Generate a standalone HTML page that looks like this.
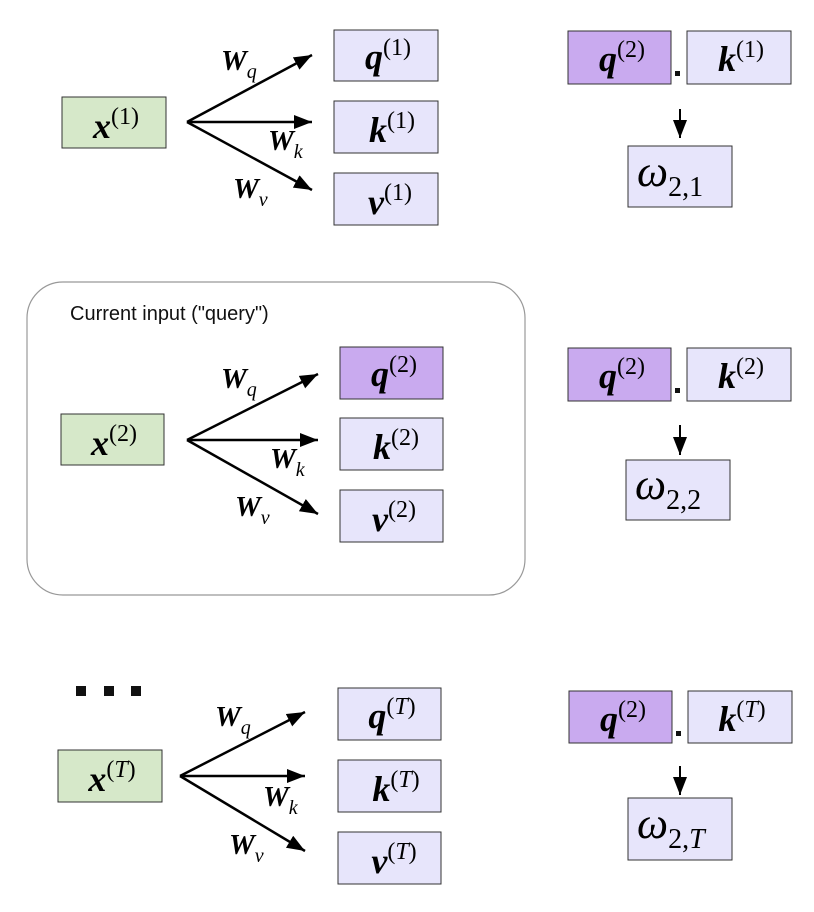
<!DOCTYPE html>
<html><head><meta charset="utf-8"><style>
html,body{margin:0;padding:0;background:#fff}
svg{display:block}
.L{font-family:"Liberation Serif",serif;font-weight:bold;font-style:italic;font-size:36px}
.S{font-family:"Liberation Serif",serif;font-size:24px;font-weight:normal;font-style:normal}
.W{font-family:"Liberation Serif",serif;font-weight:bold;font-style:italic;font-size:29px}
.ws{font-family:"Liberation Serif",serif;font-style:italic;font-size:20px;font-weight:normal}
.om{font-family:"Liberation Serif",serif;font-style:italic;font-size:44px}
.os{font-family:"Liberation Serif",serif;font-size:28px}
.ost{font-family:"Liberation Serif",serif;font-size:28px;font-style:italic}
rect.b{stroke:#333;stroke-width:1}
</style></head><body>
<svg width="814" height="912" viewBox="0 0 814 912" xmlns="http://www.w3.org/2000/svg">
<defs>
<marker id="ah" markerWidth="10" markerHeight="10" refX="9" refY="5" orient="auto" markerUnits="userSpaceOnUse">
<path d="M0,0 L18,5 L0,10 z" transform="scale(0.55,1)"/>
</marker>
<marker id="a2" markerWidth="20" markerHeight="14" refX="18" refY="7" orient="auto" markerUnits="userSpaceOnUse">
<path d="M0,0 L18,7 L0,14 z"/>
</marker>
</defs>

<!-- rounded box -->
<rect x="27" y="282" width="498" height="313" rx="36" fill="#fff" stroke="#999" stroke-width="1.2"/>
<text x="70" y="320" font-family="Liberation Sans, sans-serif" font-size="20" fill="#111">Current input ("query")</text>

<!-- dots -->
<rect x="76" y="686" width="10" height="10" fill="#111"/>
<rect x="104" y="686" width="10" height="10" fill="#111"/>
<rect x="131" y="686" width="10" height="10" fill="#111"/>

<!-- ROW 1 -->
<rect class="b" x="62" y="97" width="104" height="51" fill="#d6e8c9"/>
<text x="116" y="138" text-anchor="middle"><tspan class="L">x</tspan><tspan class="S" dy="-14">(1)</tspan></text>
<g stroke="#000" stroke-width="2.5" fill="none">
<line x1="187" y1="122" x2="312" y2="55" marker-end="url(#a2)"/>
<line x1="187" y1="122" x2="312" y2="122" marker-end="url(#a2)"/>
<line x1="187" y1="122" x2="312" y2="190" marker-end="url(#a2)"/>
</g>
<text x="221" y="70"><tspan class="W">W</tspan><tspan class="ws" dy="8">q</tspan></text>
<text x="268" y="150"><tspan class="W">W</tspan><tspan class="ws" dy="8">k</tspan></text>
<text x="233" y="198"><tspan class="W">W</tspan><tspan class="ws" dy="8">v</tspan></text>
<rect class="b" x="334" y="30" width="104" height="51" fill="#e7e5fb"/>
<text x="388" y="69" text-anchor="middle"><tspan class="L">q</tspan><tspan class="S" dy="-14">(1)</tspan></text>
<rect class="b" x="334" y="101" width="104" height="52" fill="#e7e5fb"/>
<text x="392" y="142" text-anchor="middle"><tspan class="L">k</tspan><tspan class="S" dy="-14">(1)</tspan></text>
<rect class="b" x="334" y="173" width="104" height="52" fill="#e7e5fb"/>
<text x="390" y="214" text-anchor="middle"><tspan class="L">v</tspan><tspan class="S" dy="-14">(1)</tspan></text>

<!-- ROW 2 -->
<rect class="b" x="61" y="414" width="103" height="51" fill="#d6e8c9"/>
<text x="114" y="455" text-anchor="middle"><tspan class="L">x</tspan><tspan class="S" dy="-14">(2)</tspan></text>
<g stroke="#000" stroke-width="2.5" fill="none">
<line x1="187" y1="440" x2="318" y2="374" marker-end="url(#a2)"/>
<line x1="187" y1="440" x2="318" y2="440" marker-end="url(#a2)"/>
<line x1="187" y1="440" x2="318" y2="514" marker-end="url(#a2)"/>
</g>
<text x="221" y="388"><tspan class="W">W</tspan><tspan class="ws" dy="8">q</tspan></text>
<text x="270" y="468"><tspan class="W">W</tspan><tspan class="ws" dy="8">k</tspan></text>
<text x="235" y="516"><tspan class="W">W</tspan><tspan class="ws" dy="8">v</tspan></text>
<rect class="b" x="340" y="347" width="103" height="52" fill="#c9aaef"/>
<text x="394" y="386" text-anchor="middle"><tspan class="L">q</tspan><tspan class="S" dy="-14">(2)</tspan></text>
<rect class="b" x="340" y="418" width="103" height="52" fill="#e7e5fb"/>
<text x="396" y="459" text-anchor="middle"><tspan class="L">k</tspan><tspan class="S" dy="-14">(2)</tspan></text>
<rect class="b" x="340" y="490" width="103" height="52" fill="#e7e5fb"/>
<text x="394" y="531" text-anchor="middle"><tspan class="L">v</tspan><tspan class="S" dy="-14">(2)</tspan></text>

<!-- ROW 3 -->
<rect class="b" x="58" y="750" width="104" height="52" fill="#d6e8c9"/>
<text x="112" y="791" text-anchor="middle"><tspan class="L">x</tspan><tspan class="S" dy="-14">(<tspan font-style="italic">T</tspan>)</tspan></text>
<g stroke="#000" stroke-width="2.5" fill="none">
<line x1="180" y1="776" x2="305" y2="712" marker-end="url(#a2)"/>
<line x1="180" y1="776" x2="305" y2="776" marker-end="url(#a2)"/>
<line x1="180" y1="776" x2="305" y2="851" marker-end="url(#a2)"/>
</g>
<text x="215" y="726"><tspan class="W">W</tspan><tspan class="ws" dy="8">q</tspan></text>
<text x="263" y="806"><tspan class="W">W</tspan><tspan class="ws" dy="8">k</tspan></text>
<text x="229" y="854"><tspan class="W">W</tspan><tspan class="ws" dy="8">v</tspan></text>
<rect class="b" x="338" y="688" width="103" height="52" fill="#e7e5fb"/>
<text x="392" y="728" text-anchor="middle"><tspan class="L">q</tspan><tspan class="S" dy="-14">(<tspan font-style="italic">T</tspan>)</tspan></text>
<rect class="b" x="338" y="760" width="103" height="52" fill="#e7e5fb"/>
<text x="396" y="801" text-anchor="middle"><tspan class="L">k</tspan><tspan class="S" dy="-14">(<tspan font-style="italic">T</tspan>)</tspan></text>
<rect class="b" x="338" y="832" width="103" height="52" fill="#e7e5fb"/>
<text x="394" y="873" text-anchor="middle"><tspan class="L">v</tspan><tspan class="S" dy="-14">(<tspan font-style="italic">T</tspan>)</tspan></text>

<!-- RIGHT 1 -->
<rect class="b" x="568" y="31" width="103" height="53" fill="#c9aaef"/>
<text x="622" y="71" text-anchor="middle"><tspan class="L">q</tspan><tspan class="S" dy="-14">(2)</tspan></text>
<rect x="675" y="71" width="5" height="5" fill="#111"/>
<rect class="b" x="687" y="31" width="104" height="53" fill="#e7e5fb"/>
<text x="741" y="71" text-anchor="middle"><tspan class="L">k</tspan><tspan class="S" dy="-14">(1)</tspan></text>
<line x1="680" y1="109" x2="680" y2="138" stroke="#000" stroke-width="2" marker-end="url(#a2)"/>
<rect class="b" x="628" y="146" width="104" height="61" fill="#e7e5fb"/>
<text x="637" y="186"><tspan class="om">ω</tspan><tspan class="os" dy="10">2,1</tspan></text>

<!-- RIGHT 2 -->
<rect class="b" x="568" y="348" width="103" height="53" fill="#c9aaef"/>
<text x="622" y="388" text-anchor="middle"><tspan class="L">q</tspan><tspan class="S" dy="-14">(2)</tspan></text>
<rect x="675" y="388" width="5" height="5" fill="#111"/>
<rect class="b" x="687" y="348" width="104" height="53" fill="#e7e5fb"/>
<text x="741" y="388" text-anchor="middle"><tspan class="L">k</tspan><tspan class="S" dy="-14">(2)</tspan></text>
<line x1="680" y1="425" x2="680" y2="455" stroke="#000" stroke-width="2" marker-end="url(#a2)"/>
<rect class="b" x="626" y="460" width="104" height="60" fill="#e7e5fb"/>
<text x="635" y="499"><tspan class="om">ω</tspan><tspan class="os" dy="10">2,2</tspan></text>

<!-- RIGHT 3 -->
<rect class="b" x="569" y="691" width="103" height="52" fill="#c9aaef"/>
<text x="623" y="731" text-anchor="middle"><tspan class="L">q</tspan><tspan class="S" dy="-14">(2)</tspan></text>
<rect x="676" y="731" width="5" height="5" fill="#111"/>
<rect class="b" x="688" y="691" width="104" height="52" fill="#e7e5fb"/>
<text x="742" y="731" text-anchor="middle"><tspan class="L">k</tspan><tspan class="S" dy="-14">(<tspan font-style="italic">T</tspan>)</tspan></text>
<line x1="680" y1="766" x2="680" y2="795" stroke="#000" stroke-width="2" marker-end="url(#a2)"/>
<rect class="b" x="628" y="798" width="104" height="62" fill="#e7e5fb"/>
<text x="637" y="838"><tspan class="om">ω</tspan><tspan class="os" dy="10">2,</tspan><tspan class="ost">T</tspan></text>
</svg>
</body></html>
